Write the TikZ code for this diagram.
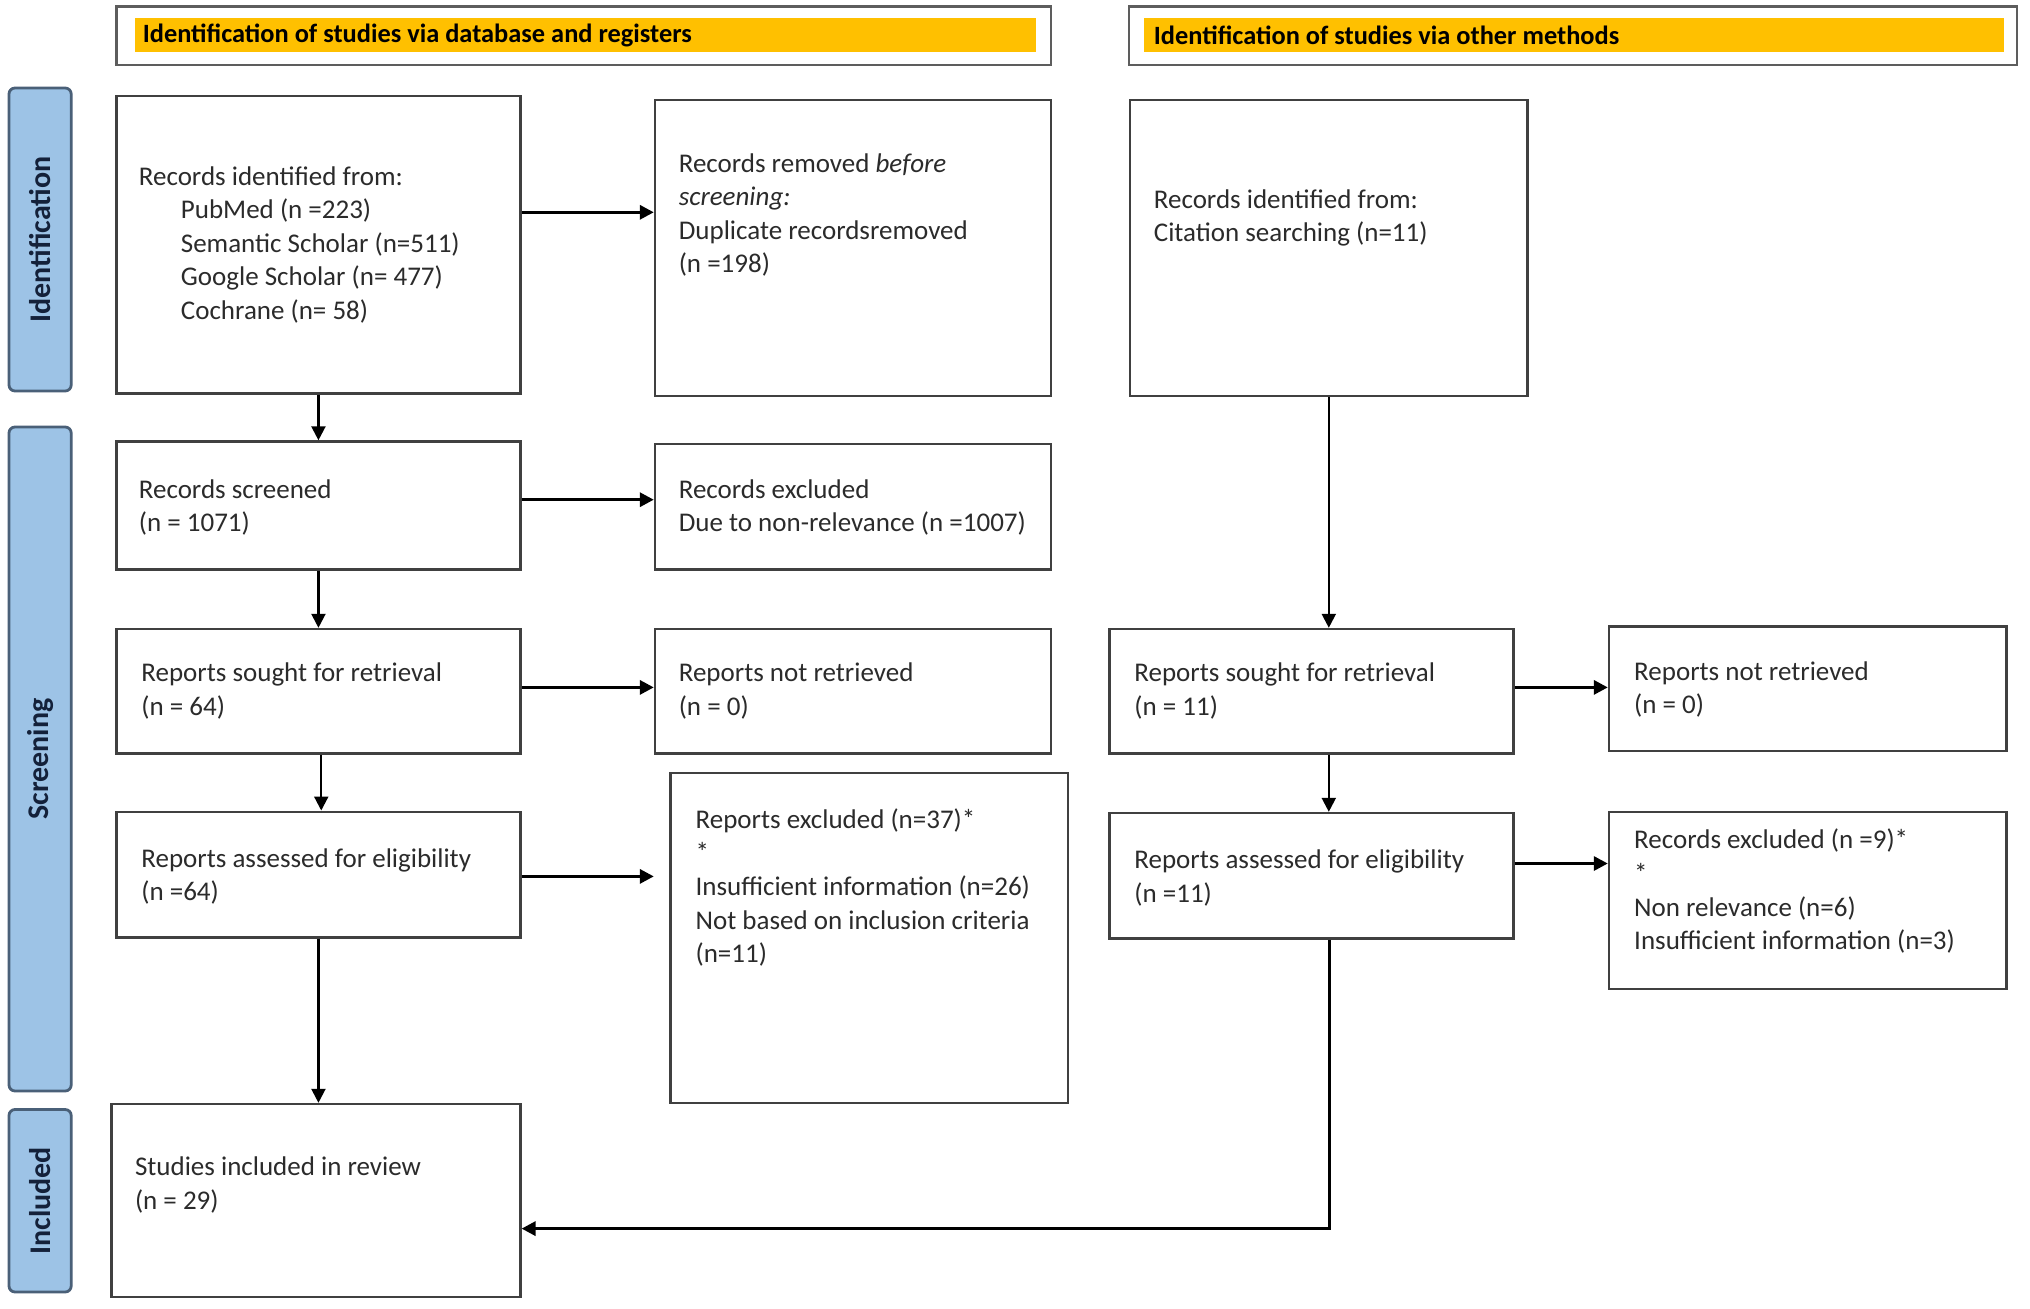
\documentclass[tikz,border=0pt]{standalone}
\usepackage{fontspec}
\setmainfont{Carlito}
\usetikzlibrary{arrows.meta,fit,calc}
\definecolor{boxline}{HTML}{404040}
\definecolor{hdrorange}{HTML}{FFC000}
\definecolor{sidefill}{HTML}{9DC3E6}
\definecolor{sideline}{HTML}{4A6078}
\definecolor{txt}{HTML}{2B2B2B}
\definecolor{sidetxt}{HTML}{14213A}
\begin{document}
\begin{tikzpicture}[x=0.5pt,y=-0.5pt,
 flowbox/.style={draw=boxline,line width=1.2pt,inner sep=0pt,fill=white},
 boxtext/.style={anchor=west,align=left,inner sep=0pt,text=txt,font=\fontsize{13.5}{16.8}\selectfont},
 sidebox/.style={draw=sideline,fill=sidefill,line width=1.4pt,rounded corners=3pt,inner sep=0pt},
 sidetext/.style={rotate=90,inner sep=0pt,font=\fontsize{15}{18}\selectfont\bfseries,text=sidetxt},
 hdrframe/.style={draw=boxline!85,line width=1.2pt,inner sep=0pt},
 hdrbar/.style={fill=hdrorange,inner sep=0pt},
 hdrtext/.style={anchor=west,inner sep=0pt,font=\fontsize{13.2}{15}\selectfont\bfseries,text=black},
 arr/.style={-{Triangle[length=7pt,width=7pt]},line width=1.6pt,draw=black},
 varr/.style={arr,line width=1.1pt}
]
\useasboundingbox[fill=white] (0,0) rectangle (2030,1308);

% headers
\node[hdrframe, fit={(116.5,6.5) (1051,64.7)}] (h1) {};
\node[hdrbar, fit={(134.6,18) (1035.7,51.8)}] (h1bar) {};
\node[hdrtext] (h1t) at (142.4,35) {Identification of studies via database and registers};
\node[hdrframe, fit={(1128.9,6.5) (2017,64.7)}] (h2) {};
\node[hdrbar, fit={(1144.4,18) (2004,51.8)}] (h2bar) {};
\node[hdrtext] (h2t) at (1153.5,35) {Identification of studies via other methods};

% side labels
\node[sidebox, fit={(9,88) (71.2,391)}] (sid) {};
\node[sidetext] (sidt) at (sid.center) {Identification};
\node[sidebox, fit={(9,427) (71.2,1091)}] (sscr) {};
\node[sidetext] (sscrt) at (sscr.center) {Screening};
\node[sidebox, fit={(9,1109.5) (71.2,1292)}] (sinc) {};
\node[sidetext] (sinct) at (sinc.center) {Included};

% boxes
\node[flowbox, fit={(116.5,95.8) (520.4,393.6)}] (A) {};
\node[flowbox, fit={(655,99.7) (1051,396)}] (B) {};
\node[flowbox, fit={(1130,99.7) (1527.6,396)}] (C) {};
\node[flowbox, fit={(116.5,441.5) (520.4,569.6)}] (D) {};
\node[flowbox, fit={(655,444) (1051,569.6)}] (E) {};
\node[flowbox, fit={(116.5,629) (520.4,753.5)}] (F) {};
\node[flowbox, fit={(655,629) (1051,753.5)}] (G) {};
\node[flowbox, fit={(116.5,811.7) (520.4,937.3)}] (H) {};
\node[flowbox, fit={(670.6,773) (1068,1103)}] (I) {};
\node[flowbox, fit={(111.3,1104) (520.4,1297)}] (J) {};
\node[flowbox, fit={(1109.5,629) (1513.4,753.5)}] (K) {};
\node[flowbox, fit={(1609,626.6) (2006.6,751)}] (L) {};
\node[flowbox, fit={(1109.5,813) (1513.4,938.6)}] (M) {};
\node[flowbox, fit={(1609,811.7) (2006.6,989)}] (N) {};

% texts
\node[boxtext] (At) at (138.5,244.7) {Records identified from:\\
\hspace*{21pt}PubMed (n =223)\\
\hspace*{21pt}Semantic Scholar (n=511)\\
\hspace*{21pt}Google Scholar (n= 477)\\
\hspace*{21pt}Cochrane (n= 58)};
\node[boxtext] (Bt) at (678.4,214.9) {Records removed \emph{before}\\ \emph{screening:}\\ Duplicate recordsremoved\\ (n =198)};
\node[boxtext] (Ct) at (1153.5,218.1) {Records identified from:\\ Citation searching (n=11)};
\node[boxtext] (Dt) at (138.5,507.5) {Records screened\\ (n = 1071)};
\node[boxtext] (Et) at (678.4,507.5) {Records excluded\\ Due to non-relevance (n =1007)};
\node[boxtext] (Ft) at (141,690.7) {Reports sought for retrieval\\ (n = 64)};
\node[boxtext] (Gt) at (678.4,690.7) {Reports not retrieved\\ (n = 0)};
\node[boxtext] (Ht) at (141,876.4) {Reports assessed for eligibility\\ (n =64)};
\node[boxtext] (It) at (695.2,887.4) {Reports excluded (n=37)*\\ *\\ Insufficient information (n=26)\\ Not based on inclusion criteria\\ (n=11)};
\node[boxtext] (Jt) at (134.6,1185.2) {Studies included in review\\ (n = 29)};
\node[boxtext] (Kt) at (1134,690.7) {Reports sought for retrieval\\ (n = 11)};
\node[boxtext] (Lt) at (1633.8,689.4) {Reports not retrieved\\ (n = 0)};
\node[boxtext] (Mt) at (1134,877.7) {Reports assessed for eligibility\\ (n =11)};
\node[boxtext] (Nt) at (1633.8,891.3) {Records excluded (n =9)*\\ *\\ Non relevance (n=6)\\ Insufficient information (n=3)};

% helper coordinates
\coordinate (yab) at (0,212.3);
\coordinate (yde) at (0,499.7);
\coordinate (yfg) at (0,687.4);
\coordinate (yhi) at (0,876.4);
\coordinate (xhi) at (653.8,0);
\coordinate (ykl) at (0,687.4);
\coordinate (ymn) at (0,863.5);
\coordinate (xmj) at (1329.5,0);
\coordinate (corner) at (1329.5,1228.6);

% connectors
\draw[arr] (A.east |- yab) -- (B.west |- yab);
\draw[varr] (A.south) -- (A.south |- D.north);
\draw[arr] (D.east |- yde) -- (E.west |- yde);
\draw[varr] (D.south) -- (D.south |- F.north);
\draw[arr] (F.east |- yfg) -- (G.west |- yfg);
\draw[varr] ([xshift=1.4pt]F.south) -- ([xshift=1.4pt]F.south |- H.north);
\draw[arr] (H.east |- yhi) -- (xhi |- yhi);
\draw[varr] (H.south) -- (H.south |- J.north);
\draw[varr] (C.south) -- (C.south |- K.north);
\draw[arr] (K.east |- ykl) -- (L.west |- ykl);
\draw[varr] (K.south -| C.south) -- (M.north -| C.south);
\draw[arr] (M.east |- ymn) -- (N.west |- ymn);
\draw[arr] (M.south -| xmj) -- (corner) -- (J.east |- corner);
\end{tikzpicture}
\end{document}
